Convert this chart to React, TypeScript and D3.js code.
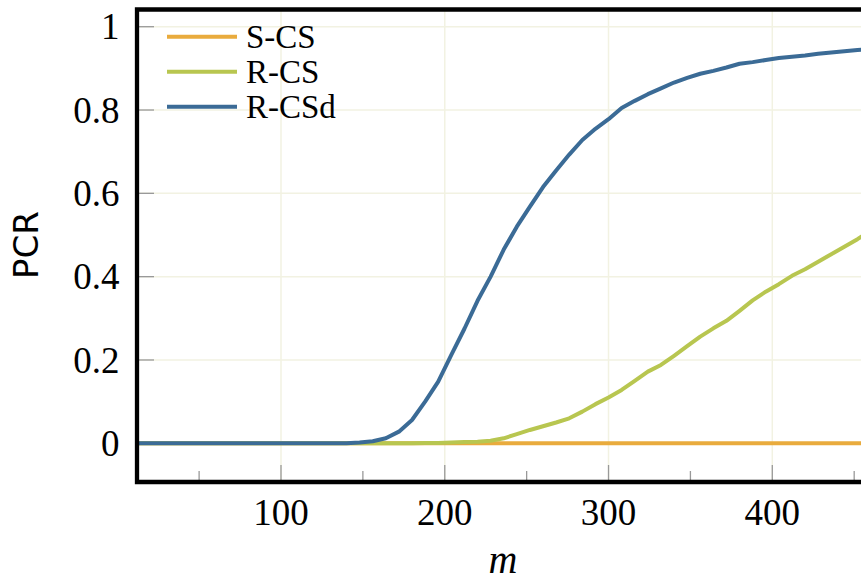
import React from "react";
import * as d3 from "d3";

const mValues = [12,20,28,36,44,52,60,68,76,84,92,100,108,116,124,132,140,148,156,164,172,180,188,196,204,212,220,228,236,244,252,260,268,276,284,292,300,308,316,324,332,340,348,356,364,372,380,388,396,404,412,420,428,436,444,452,460,468];

const sCS = [0,0,0,0,0,0,0,0,0,0,0,0,0,0,0,0,0,0,0,0,0,0,0,0,0,0,0,0,0,0,0,0,0,0,0,0,0,0,0,0,0,0,0,0,0,0,0,0,0,0,0,0,0,0,0,0,0,0];

const rCS = [0,0,0,0,0,0,0,0,0,0,0,0,0,0,0,0,0,0,0,0,0,0,
  0.001,0.001,0.002,0.003,0.004,0.006,0.012,0.022,0.032,0.041,0.05,0.06,0.076,0.094,0.11,0.128,0.15,0.172,0.188,0.21,0.233,0.256,0.276,0.294,0.318,0.343,0.364,0.382,0.402,0.418,0.436,0.454,0.472,0.49,0.51,0.53];

const rCSd = [0,0,0,0,0,0,0,0,0,0,0,0,0,0,0,0,0,
  0.002,0.005,0.012,0.028,0.056,0.1,0.148,0.212,0.275,0.342,0.4,0.465,0.52,0.568,0.615,0.655,0.693,0.728,0.755,0.778,0.805,0.822,0.838,0.852,0.866,0.877,0.887,0.894,0.902,0.911,0.915,0.92,0.925,0.928,0.931,0.935,0.938,0.941,0.944,0.947,0.95];

const seriesNames = ["S-CS", "R-CS", "R-CSd"];
const seriesColors = ["#e9ab3d", "#b8c650", "#3b6b96"];
const seriesData = [sCS, rCS, rCSd];

const xMajorTicks = [100, 200, 300, 400];
const xMinorTicks = [50, 150, 250, 350, 450];
const yTicks = [0, 0.2, 0.4, 0.6, 0.8, 1];
const yTickLabels = ["0", "0.2", "0.4", "0.6", "0.8", "1"];

export default function App() {
  const W = 861, H = 581;
  const left = 137, top = 9.5, bottom = 482, right = 940;
  const x = d3.scaleLinear().domain([100, 400]).range([281, 772.3]);
  const y = d3.scaleLinear().domain([0, 1]).range([443.3, 26.7]);
  const line = d3.line<number>()
    .x((_, i) => x(mValues[i]))
    .y((d) => y(d));
  const serif = "'Liberation Serif', 'DejaVu Serif', serif";
  return (
    <svg width={W} height={H} style={{ position: "absolute", left: 0, top: 0, background: "#fff" }}>
      <defs>
        <clipPath id="plot">
          <rect x={left} y={top} width={right - left} height={bottom - top} />
        </clipPath>
      </defs>
      <rect x={0} y={0} width={W} height={H} fill="#fff" />
      {/* grid */}
      <g stroke="#f2f2e2" strokeWidth={1.5}>
        {xMajorTicks.map((t) => (
          <line key={"gx" + t} x1={x(t)} x2={x(t)} y1={top} y2={bottom} />
        ))}
        {yTicks.map((t) => (
          <line key={"gy" + t} x1={left} x2={right} y1={y(t)} y2={y(t)} />
        ))}
      </g>
      {/* ticks */}
      <g stroke="#999" strokeWidth={1.3}>
        {xMajorTicks.map((t) => (
          <line key={"tx" + t} x1={x(t)} x2={x(t)} y1={bottom} y2={bottom - 17} />
        ))}
        {xMinorTicks.map((t) => (
          <line key={"tm" + t} x1={x(t)} x2={x(t)} y1={bottom} y2={bottom - 11} />
        ))}
        {yTicks.map((t) => (
          <line key={"ty" + t} x1={left} x2={left + 17} y1={y(t)} y2={y(t)} />
        ))}
      </g>
      {/* series */}
      <g clipPath="url(#plot)" fill="none" strokeWidth={4} strokeLinejoin="round">
        {seriesData.map((s, i) => (
          <path key={seriesNames[i]} d={line(s) || ""} stroke={seriesColors[i]} />
        ))}
      </g>
      {/* frame */}
      <path
        d={`M${right},${top} L${left},${top} L${left},${bottom} L${right},${bottom}`}
        fill="none"
        stroke="#000"
        strokeWidth={4.3}
      />
      {/* y tick labels */}
      <g fontFamily={serif} fontSize={37} fill="#000" textAnchor="end">
        {yTicks.map((t, i) => (
          <text key={"ly" + t} x={119.5} y={y(t)} dy="0.34em">{yTickLabels[i]}</text>
        ))}
      </g>
      {/* x tick labels */}
      <g fontFamily={serif} fontSize={37} fill="#000" textAnchor="middle">
        {xMajorTicks.map((t) => (
          <text key={"lx" + t} x={x(t)} y={525}>{t}</text>
        ))}
      </g>
      {/* axis labels */}
      <text x={503} y={573} fontFamily={serif} fontStyle="italic" fontSize={40} textAnchor="middle">m</text>
      <text
        transform="translate(38,245) rotate(-90)"
        fontFamily="'DejaVu Sans', sans-serif"
        fontSize={34}
        textAnchor="middle"
      >PCR</text>
      {/* legend */}
      <g>
        {seriesNames.map((n, i) => (
          <g key={"lg" + n} transform={`translate(0,${36.7 + i * 35})`}>
            <line x1={167} x2={237} y1={0} y2={0} stroke={seriesColors[i]} strokeWidth={4} />
            <text x={246} y={11.5} fontFamily={serif} fontSize={33}>{n}</text>
          </g>
        ))}
      </g>
    </svg>
  );
}
